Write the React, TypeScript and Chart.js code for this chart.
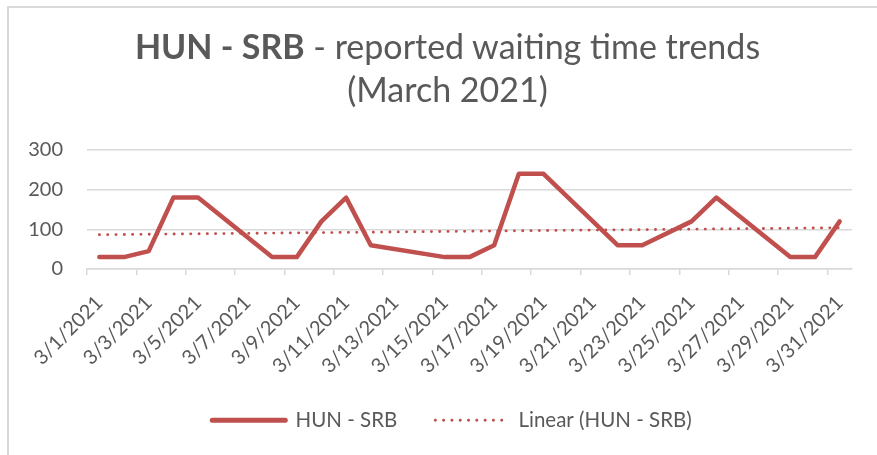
import React, { useEffect, useRef } from 'react';
import { Chart, registerables } from 'chart.js';

Chart.register(...registerables);

const categories = [
  '3/1/2021', '3/2/2021', '3/3/2021', '3/4/2021', '3/5/2021', '3/6/2021', '3/7/2021', '3/8/2021',
  '3/9/2021', '3/10/2021', '3/11/2021', '3/12/2021', '3/13/2021', '3/14/2021', '3/15/2021', '3/16/2021',
  '3/17/2021', '3/18/2021', '3/19/2021', '3/20/2021', '3/21/2021', '3/22/2021', '3/23/2021', '3/24/2021',
  '3/25/2021', '3/26/2021', '3/27/2021', '3/28/2021', '3/29/2021', '3/30/2021', '3/31/2021',
];

const waitingTimes: (number | null)[] = [
  30, 30, 45, 180, 180, null, null, 30,
  30, 120, 180, 60, null, null, 30, 30,
  60, 240, 240, null, null, 60, 60, null,
  120, 180, null, null, 30, 30, 120,
];

const yTickValues = [0, 100, 200, 300];

const seriesName = 'HUN - SRB';
const trendName = 'Linear (HUN - SRB)';

const RED = '#C0504D';
const TEXT = '#595959';
const GRID = '#D9D9D9';
const FONT = 'Lato, "Noto Sans", sans-serif';

function linearTrend(values: (number | null)[]): number[] {
  const pts: [number, number][] = [];
  values.forEach((v, i) => {
    if (v !== null) pts.push([i, v]);
  });
  const n = pts.length;
  const mx = pts.reduce((s, p) => s + p[0], 0) / n;
  const my = pts.reduce((s, p) => s + p[1], 0) / n;
  let sxy = 0;
  let sxx = 0;
  pts.forEach(([x, y]) => {
    sxy += (x - mx) * (y - my);
    sxx += (x - mx) * (x - mx);
  });
  const slope = sxy / sxx;
  const intercept = my - slope * mx;
  return values.map((_, i) => intercept + slope * i);
}

const trendValues = linearTrend(waitingTimes);

const legendShift = {
  id: 'legendShift',
  afterLayout(chart: any) {
    const l = chart.legend;
    if (l) {
      l.left += 26;
      l.right += 26;
    }
  },
};

export default function App() {
  const ref = useRef<HTMLCanvasElement>(null);

  useEffect(() => {
    if (!ref.current) return;
    Chart.defaults.font.family = FONT;
    const chart = new Chart(ref.current, {
      type: 'line',
      data: {
        labels: categories,
        datasets: [
          {
            label: seriesName,
            data: waitingTimes,
            borderColor: RED,
            backgroundColor: RED,
            borderWidth: 4.5,
            pointRadius: 0,
            pointHoverRadius: 0,
            spanGaps: true,
            tension: 0,
            borderJoinStyle: 'round',
            borderCapStyle: 'round',
          },
          {
            label: trendName,
            data: trendValues,
            borderColor: RED,
            backgroundColor: RED,
            borderWidth: 2.8,
            borderDash: [0.2, 8.1],
            borderCapStyle: 'round',
            pointRadius: 0,
            pointHoverRadius: 0,
            tension: 0,
          },
        ],
      },
      plugins: [legendShift],
      options: {
        animation: false,
        responsive: false,
        maintainAspectRatio: false,
        events: [],
        layout: { padding: { top: 150, left: 0, right: 25, bottom: 14.5 } },
        scales: {
          x: {
            offset: true,
            grid: {
              offset: true,
              drawOnChartArea: false,
              drawTicks: true,
              tickLength: 6,
              lineWidth: 1.5,
              color: (c: any) => (c.index !== undefined && c.index % 2 === 0 ? GRID : 'rgba(0,0,0,0)'),
            },
            border: { color: GRID, width: 1.5 },
            ticks: {
              autoSkip: false,
              maxRotation: 45,
              minRotation: 45,
              padding: 16,
              color: TEXT,
              font: { size: 20, family: FONT },
              callback: (_v: any, i: number) => (i % 2 === 0 ? categories[i] : ''),
            },
            afterFit: (s: any) => {
              s.height = 103;
            },
          },
          y: {
            min: 0,
            max: 300,
            afterBuildTicks: (s: any) => {
              s.ticks = yTickValues.map((v) => ({ value: v }));
            },
            grid: { color: GRID, lineWidth: 1.5, drawTicks: false },
            border: { display: false },
            ticks: {
              padding: 24,
              color: TEXT,
              font: { size: 20, family: FONT },
            },
            afterFit: (s: any) => {
              s.width = 87;
            },
          },
        },
        plugins: {
          title: { display: false },
          tooltip: { enabled: false },
          legend: {
            position: 'bottom',
            labels: {
              usePointStyle: true,
              pointStyleWidth: 73,
              padding: 38,
              color: TEXT,
              font: { size: 20.5, family: FONT },
              generateLabels: () => [
                {
                  text: seriesName,
                  strokeStyle: RED,
                  fillStyle: RED,
                  lineWidth: 5,
                  lineCap: 'round',
                  lineDash: [],
                  pointStyle: 'line',
                  datasetIndex: 0,
                  fontColor: TEXT,
                  hidden: false,
                },
                {
                  text: trendName,
                  strokeStyle: RED,
                  fillStyle: RED,
                  lineWidth: 2.8,
                  lineCap: 'round',
                  lineDash: [0.2, 8.1],
                  pointStyle: 'line',
                  datasetIndex: 1,
                  fontColor: TEXT,
                  hidden: false,
                },
              ],
            },
          },
        },
      } as any,
    });
    return () => chart.destroy();
  }, []);

  return (
    <div
      style={{
        position: 'absolute',
        left: 0,
        top: 0,
        width: 877,
        height: 455,
        overflow: 'hidden',
        background: '#ffffff',
      }}
    >
      <div
        style={{
          position: 'absolute',
          left: 7,
          top: 6,
          width: 900,
          height: 500,
          border: `2px solid ${GRID}`,
          boxSizing: 'border-box',
        }}
      />
      <canvas
        ref={ref}
        width={877}
        height={455}
        style={{ position: 'absolute', left: 0, top: 0, width: 877, height: 455 }}
      />
      <div
        style={{
          position: 'absolute',
          left: 9,
          top: 24,
          width: 877,
          textAlign: 'center',
          fontFamily: FONT,
          fontSize: 34,
          lineHeight: '43px',
          color: TEXT,
        }}
      >
        <div>
          <span style={{ fontWeight: 700 }}>HUN - SRB</span> - reported waiting time trends
        </div>
        <div>(March 2021)</div>
      </div>
    </div>
  );
}
